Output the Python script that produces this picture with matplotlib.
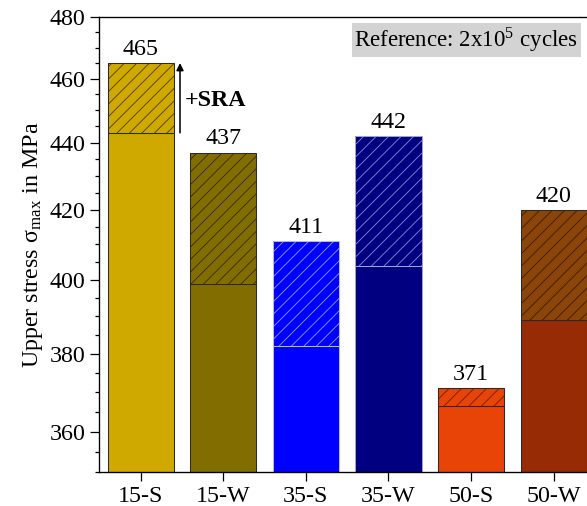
import matplotlib
matplotlib.use('Agg')
import matplotlib.pyplot as plt
from matplotlib.ticker import FixedLocator, NullFormatter, FormatStrFormatter

plt.rcParams['font.family'] = ['Liberation Serif', 'DejaVu Serif']
plt.rcParams['mathtext.fontset'] = 'stix'
plt.rcParams['hatch.linewidth'] = 0.8

# upper stress at 2x10^5 cycles, as welded and after stress relief annealing (SRA)
samples = ['15-S', '15-W', '35-S', '35-W', '50-S', '50-W']
stress_base = [443, 399, 382, 404, 366.5, 389]
stress_sra = [465, 437, 411, 442, 371, 420]

base_colors = ['#CFA800', '#826E00', '#0000FF', '#000080', '#E84408', '#962B06']
sra_colors = ['#CFA800', '#826E00', '#0000FF', '#000080', '#E84408', '#8B4508']
hatch_colors = ['#4A3C00', '#332A00', '#9A9AF5', '#8A8AD8', '#6A1E00', '#3A1A00']
edge_colors = ['#2A2A2A', '#2A2A2A', '#B8B8E0', '#A0A0C8', '#2A2A2A', '#2A2A2A']

fs = 23

fig = plt.figure(figsize=(587 / 75, 506 / 75), dpi=75)
ax = fig.add_axes([0.1693, 0.0666, 0.8443, 0.8992])
ax.set_yscale('log')

x = list(range(len(samples)))
floor = 300
gain = [t - b for t, b in zip(stress_sra, stress_base)]
ax.bar(x, [b - floor for b in stress_base], bottom=floor, width=0.8,
       color=base_colors, edgecolor=edge_colors, linewidth=1.0)
ax.bar(x, gain, bottom=stress_base, width=0.8, color=sra_colors,
       edgecolor=hatch_colors, linewidth=0, hatch='//')
ax.bar(x, gain, bottom=stress_base, width=0.8, fill=False,
       edgecolor=edge_colors, linewidth=1.0)

for xi, v in zip(x, stress_sra):
    ax.annotate(f'{v:.0f}', (xi, v), xytext=(0, 3), textcoords='offset points',
                ha='center', va='bottom', fontsize=fs)

# SRA gain arrow next to the first bar
ax.annotate('', xy=(0.476, stress_sra[0]), xytext=(0.476, stress_base[0]),
            arrowprops=dict(arrowstyle='-|>', color='black', lw=1.5,
                            mutation_scale=14, shrinkA=0, shrinkB=0))
ax.text(0.535, 453, '+SRA', fontsize=fs, fontweight='bold', va='center', ha='left')

ax.text(0.5147, 0.950, r'Reference: 2x10$^{\mathregular{5}}$ cycles', transform=ax.transAxes,
        fontsize=22, ha='left', va='center',
        bbox=dict(boxstyle='square,pad=0.12', facecolor='#D3D3D3', edgecolor='none'))

ax.set_xlim(-0.5, 5.5)
ax.set_ylim(350, 480)
ax.set_xticks(x)
ax.set_xticklabels(samples)
ax.yaxis.set_major_locator(FixedLocator([360, 380, 400, 420, 440, 460, 480]))
ax.yaxis.set_minor_locator(FixedLocator([v for v in range(350, 481, 5) if v % 20 != 0]))
ax.yaxis.set_major_formatter(FormatStrFormatter('%d'))
ax.yaxis.set_minor_formatter(NullFormatter())
ax.tick_params(axis='both', which='major', labelsize=fs, length=8.5, width=1.2, pad=5)
ax.tick_params(axis='y', which='minor', length=4.3, width=1.2)
ax.tick_params(axis='x', which='minor', bottom=False)
for s in ax.spines.values():
    s.set_linewidth(1.3)

ax.set_ylabel(r'Upper stress σ$_{\mathregular{max}}$ in MPa', fontsize=fs, labelpad=4)

fig.savefig('out.png', dpi=75)
